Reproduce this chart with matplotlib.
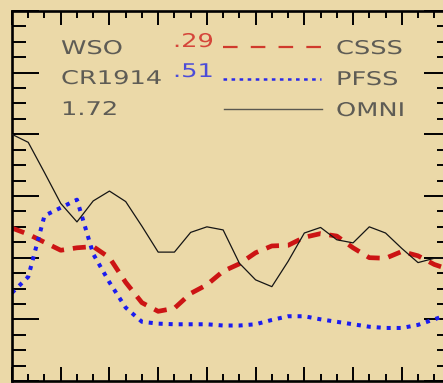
import matplotlib
matplotlib.use("Agg")
import matplotlib.pyplot as plt
from matplotlib import patheffects
from matplotlib.transforms import Affine2D
from matplotlib.ticker import MultipleLocator

# daily solar wind speed over the rotation (km/s)
day = list(range(28))
omni = [600, 587, 538, 488, 458, 492, 508, 491, 451, 409, 409, 441, 450, 445,
        391, 364, 353, 394, 440, 449, 429, 424, 450, 440, 415, 392, 399, 400]
csss = [448, 438, 425, 412, 416, 418, 400, 360, 327, 313, 318, 342, 356, 378,
        390, 408, 419, 420, 433, 439, 435, 416, 400, 399, 410, 403, 389, 380]
pfss = [343, 369, 468, 481, 494, 406, 360, 319, 296, 293, 292, 292, 292, 290,
        290, 292, 299, 305, 305, 300, 296, 292, 288, 286, 286, 291, 300, 309]

obs_name, rotation, ratio = "WSO", "CR1914", "1.72"
r_csss, r_pfss = ".29", ".51"
series_names = ["CSSS", "PFSS", "OMNI"]

W, H = 443, 383
BG = "#ebd9a8"
C_TXT = "#5e5c55"
C_RED, C_BLUE, C_BLK = "#cc1414", "#1c1cef", "#151515"

plt.rcParams["lines.scale_dashes"] = False


class Stretch(patheffects.AbstractPathEffect):
    """Widen glyphs horizontally about the text origin."""
    def __init__(self, sx):
        super().__init__()
        self.sx = sx

    def draw_path(self, renderer, gc, tpath, affine, rgbFace=None):
        renderer.draw_path(gc, tpath, Affine2D().scale(self.sx, 1) + affine, rgbFace)


def fx(px):
    return px / W


def fy(py):
    return 1 - py / H


fig = plt.figure(figsize=(W / 100, H / 100), dpi=100)
fig.patch.set_facecolor(BG)
ax = fig.add_axes([fx(12), fy(381), (450.5 - 12) / W, 370 / H])
ax.set_facecolor("none")

ax.plot(day, omni, color=C_BLK, lw=0.9, zorder=3)
ax.plot(day, csss, color=C_RED, lw=3.4, dashes=(9.4, 6.4),
        dash_capstyle="butt", zorder=2)
ax.plot(day, pfss, color=C_BLUE, lw=2.9, dashes=(2.9, 4.3),
        dash_capstyle="butt", zorder=2)

ax.set_xlim(0, 27)
ax.set_ylim(200, 800)
ax.xaxis.set_major_locator(MultipleLocator(3))
ax.xaxis.set_minor_locator(MultipleLocator(1))
ax.yaxis.set_major_locator(MultipleLocator(100))
ax.yaxis.set_minor_locator(MultipleLocator(25))
ax.tick_params(which="both", direction="in", top=True, right=True,
               labelbottom=False, labelleft=False, color="black", width=1.4)
ax.tick_params(axis="x", which="major", length=10)
ax.tick_params(axis="x", which="minor", length=5.2)
ax.tick_params(axis="y", which="major", length=19.5)
ax.tick_params(axis="y", which="minor", length=10)
for s in ax.spines.values():
    s.set_linewidth(1.9)

# annotation block
stretch = [Stretch(1.36)]
txt = dict(fontsize=13.6, va="baseline", ha="left", path_effects=stretch)
fig.text(fx(61), fy(54), obs_name, color=C_TXT, **txt)
fig.text(fx(61), fy(84), rotation, color=C_TXT, **txt)
fig.text(fx(61), fy(115), ratio, color=C_TXT, **txt)
fig.text(fx(173), fy(47), r_csss, color="#d5463a", **txt)
fig.text(fx(173), fy(77), r_pfss, color="#4c4cd8", **txt)
for name, y in zip(series_names, (54, 85, 116)):
    fig.text(fx(336), fy(y), name, color=C_TXT, **txt)

# legend samples
fig.add_artist(plt.Line2D([fx(223), fx(322)], [fy(47), fy(47)], color="#d03a2c",
                          lw=1.6, dashes=(10.5, 9.5), dash_capstyle="butt"))
fig.add_artist(plt.Line2D([fx(223), fx(321)], [fy(79), fy(79)], color="#2a2ae8",
                          lw=1.8, dashes=(2.6, 3.2), dash_capstyle="butt"))
fig.add_artist(plt.Line2D([fx(224), fx(322)], [fy(109), fy(109)], color="#5a5850",
                          lw=1.0))

fig.savefig("out.png", dpi=100, facecolor=BG)
